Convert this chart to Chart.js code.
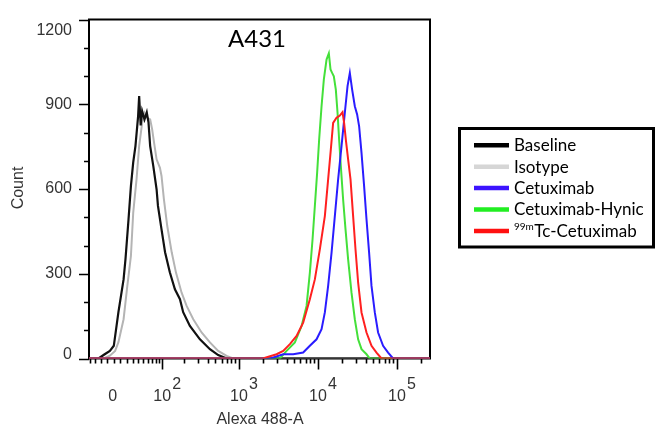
<!DOCTYPE html>
<html>
<head>
<meta charset="utf-8">
<script src="https://cdn.jsdelivr.net/npm/chart.js@4.4.1/dist/chart.umd.min.js"></script>
<style>
  html, body { margin: 0; padding: 0; background: #fff; }
</style>
</head>
<body>
<canvas id="chart" width="657" height="426"></canvas>
<script>
// Alexa 488-A intensity (x) and event counts (y) for each histogram
const baselineX = [-41, -24, -14, -6, 0, 7, 15, 18, 23, 27, 31, 35, 40, 42, 45, 48, 53, 58, 62, 66, 74, 83, 87, 98, 110, 128, 150, 175, 193, 236, 318, 427, 544, 700, 262144];
const baselineY = [0, 0, 15, 27, 45, 164, 280, 351, 493, 610, 694, 752, 858, 929, 825, 876, 846, 871, 836, 752, 681, 599, 540, 457, 376, 305, 245, 210, 164, 115, 68, 33, 12, 0, 0];

const isotypeX = [-41, -16, -6, 2, 7, 15, 21, 27, 31, 37, 42, 48, 53, 59, 66, 71, 76, 83, 93, 98, 106, 118, 136, 155, 184, 214, 261, 334, 427, 544, 696, 844, 262144];
const isotypeY = [0, 0, 10, 27, 58, 139, 257, 363, 516, 634, 752, 834, 870, 852, 846, 811, 764, 705, 675, 646, 563, 469, 375, 304, 233, 186, 139, 92, 57, 27, 9, 0, 0];

const cetuximabX = [-41, 2500, 3628, 4855, 6495, 7894, 9594, 11100, 12220, 13450, 14860, 16350, 18000, 19870, 21880, 23680, 25320, 27080, 29280, 31320, 33200, 35590, 38390, 41170, 44410, 47630, 52450, 57730, 66780, 77260, 89380, 262144];
const cetuximabY = [0, 0, 15, 15, 21, 45, 68, 104, 163, 257, 375, 504, 634, 752, 870, 964, 1011, 952, 893, 864, 822, 728, 610, 493, 375, 257, 163, 92, 45, 21, 0, 0];

const hynicX = [-41, 3294, 4004, 5100, 6200, 7170, 7894, 8540, 9130, 9762, 10350, 11100, 11870, 12840, 13730, 14420, 15110, 15880, 16830, 17690, 18530, 19470, 20820, 22330, 24090, 26590, 29280, 32240, 35590, 41170, 45330, 262144];
const hynicY = [0, 0, 27, 57, 115, 186, 304, 422, 540, 658, 775, 893, 988, 1058, 1080, 1023, 1011, 999, 952, 870, 775, 681, 563, 457, 351, 233, 139, 68, 33, 15, 0, 0];

const tcX = [-41, 2000, 2992, 3628, 4410, 5361, 6495, 7894, 9130, 10560, 12220, 13450, 14550, 15560, 17180, 18920, 20460, 21430, 22530, 24090, 25830, 27870, 29880, 32240, 35590, 41170, 47630, 55100, 63750, 262144];
const tcY = [0, 0, 15, 27, 51, 80, 127, 210, 280, 386, 504, 634, 740, 834, 852, 860, 872, 834, 775, 705, 634, 504, 386, 269, 163, 92, 45, 21, 0, 0];

const seriesNames = ['Baseline', 'Isotype', 'Cetuximab', 'Cetuximab-Hynic', 'Tc-Cetuximab'];
const seriesSup = ['', '', '', '', '99m'];
const lineColors = ['#111111', '#b4b4b4', '#2a1cff', '#44e03a', '#ff2020'];
const keyColors = ['#000000', '#d6d6d6', '#3c14ff', '#22ee22', '#ff1010'];

const xDecades = [2, 3, 4, 5];
const xMinorTicks = [-40, -30, -20, -10, 0, 10, 20, 30, 40, 50, 60, 70, 80, 90,
  200, 300, 400, 500, 600, 700, 800, 900,
  2000, 3000, 4000, 5000, 6000, 7000, 8000, 9000,
  20000, 30000, 40000, 50000, 60000, 70000, 80000, 90000, 200000];
const yLabels = [0, 300, 600, 900, 1200];
const xMin = -41, xMax = 262144, yMax = 1200;

// biexponential display transform (linear near zero, log10 above)
const W = 52;
const biex = v => Math.asinh(v / W) / Math.LN10;

const toPoints = (xs, ys) => xs.map((v, i) => ({ x: biex(v), y: ys[i] }));

const series = [baselineX, isotypeX, cetuximabX, hynicX, tcX];
const counts = [baselineY, isotypeY, cetuximabY, hynicY, tcY];
const drawOrder = [4, 5, 2, 3, 1];

const datasets = seriesNames.map((name, i) => ({
  label: seriesSup[i] + name,
  data: toPoints(series[i], counts[i]),
  borderColor: lineColors[i],
  borderWidth: i === 0 ? 2.2 : 2,
  pointRadius: 0,
  tension: 0,
  fill: false,
  order: drawOrder[i]
}));

const axisFont = '"Liberation Sans", Arial, sans-serif';
const textFont = 'Lato, "Open Sans", sans-serif';

const flowAxes = {
  id: 'flowAxes',
  beforeDatasetsDraw(chart) {
    const { ctx, chartArea: a } = chart;
    const x = chart.scales.x, y = chart.scales.y;
    ctx.save();
    ctx.strokeStyle = '#000';
    ctx.lineWidth = 2;
    ctx.strokeRect(a.left, a.top, a.right - a.left, a.bottom - a.top);

    ctx.lineWidth = 1.6;
    ctx.beginPath();
    for (let v = 0; v <= yMax; v += 100) {
      const py = Math.round(y.getPixelForValue(v)) + 0.5;
      const len = v % 300 === 0 ? 10 : 5;
      ctx.moveTo(a.left - len, py);
      ctx.lineTo(a.left, py);
    }
    xMinorTicks.forEach(v => {
      const px = Math.round(x.getPixelForValue(biex(v))) + 0.5;
      ctx.moveTo(px, a.bottom);
      ctx.lineTo(px, a.bottom + 5);
    });
    xDecades.forEach(d => {
      const px = Math.round(x.getPixelForValue(biex(Math.pow(10, d)))) + 0.5;
      ctx.moveTo(px, a.bottom);
      ctx.lineTo(px, a.bottom + 11);
    });
    ctx.stroke();
    ctx.restore();
  },
  afterDraw(chart) {
    const { ctx, chartArea: a } = chart;
    const x = chart.scales.x, y = chart.scales.y;
    ctx.save();
    ctx.fillStyle = '#333';
    ctx.font = '16px ' + axisFont;

    // count labels
    ctx.textAlign = 'right';
    ctx.textBaseline = 'middle';
    yLabels.forEach(v => {
      let py = y.getPixelForValue(v);
      if (v === yMax) py += 11.5;
      if (v === 0) py -= 4;
      ctx.fillText(String(v), 72, py);
    });

    // intensity labels: 0 and decades as 10 with a raised exponent
    ctx.textAlign = 'center';
    ctx.fillText('0', x.getPixelForValue(biex(0)) - 1, 397);
    for (const d of xDecades) {
      const px = x.getPixelForValue(biex(Math.pow(10, d)));
      ctx.textAlign = 'center';
      ctx.fillText('10', px, 397);
      ctx.textAlign = 'left';
      ctx.fillText(String(d), px + 10, 385);
    }

    // axis titles
    ctx.font = '16px ' + axisFont;
    ctx.textAlign = 'center';
    ctx.fillText('Alexa 488-A', (a.left + a.right) / 2 + 0.5, 420);
    ctx.save();
    ctx.translate(19, 188);
    ctx.rotate(-Math.PI / 2);
    ctx.fillText('Count', 0, 0);
    ctx.restore();

    // panel title
    ctx.fillStyle = '#000';
    ctx.font = '24px ' + textFont;
    ctx.textBaseline = 'alphabetic';
    ctx.fillText('A431', 257, 47);

    // key
    ctx.lineWidth = 3;
    ctx.strokeStyle = '#000';
    ctx.strokeRect(459.5, 128.5, 194, 118.5);
    const rowY = [145.3, 166.7, 188.1, 209.5, 230.9];
    seriesNames.forEach((name, i) => {
      ctx.strokeStyle = keyColors[i];
      ctx.lineWidth = 4.5;
      ctx.beginPath();
      ctx.moveTo(474, rowY[i]);
      ctx.lineTo(509, rowY[i]);
      ctx.stroke();
      ctx.fillStyle = '#000';
      ctx.textAlign = 'left';
      ctx.textBaseline = 'middle';
      let tx = 514;
      if (seriesSup[i]) {
        ctx.font = '10px ' + textFont;
        ctx.fillText(seriesSup[i], tx, rowY[i] - 4);
        tx += ctx.measureText(seriesSup[i]).width + 0.5;
      }
      ctx.font = '17px ' + textFont;
      ctx.fillText(name, tx, rowY[i] + 0.5);
    });
    ctx.restore();
  }
};

new Chart(document.getElementById('chart'), {
  type: 'line',
  data: { datasets },
  options: {
    responsive: false,
    animation: false,
    layout: { padding: { left: 89, top: 19.5, right: 227, bottom: 67.5 } },
    scales: {
      x: { type: 'linear', min: biex(xMin), max: biex(xMax), display: false },
      y: { type: 'linear', min: 0, max: yMax, display: false }
    },
    plugins: {
      legend: { display: false },
      tooltip: { enabled: false }
    }
  },
  plugins: [flowAxes]
});
</script>
</body>
</html>
